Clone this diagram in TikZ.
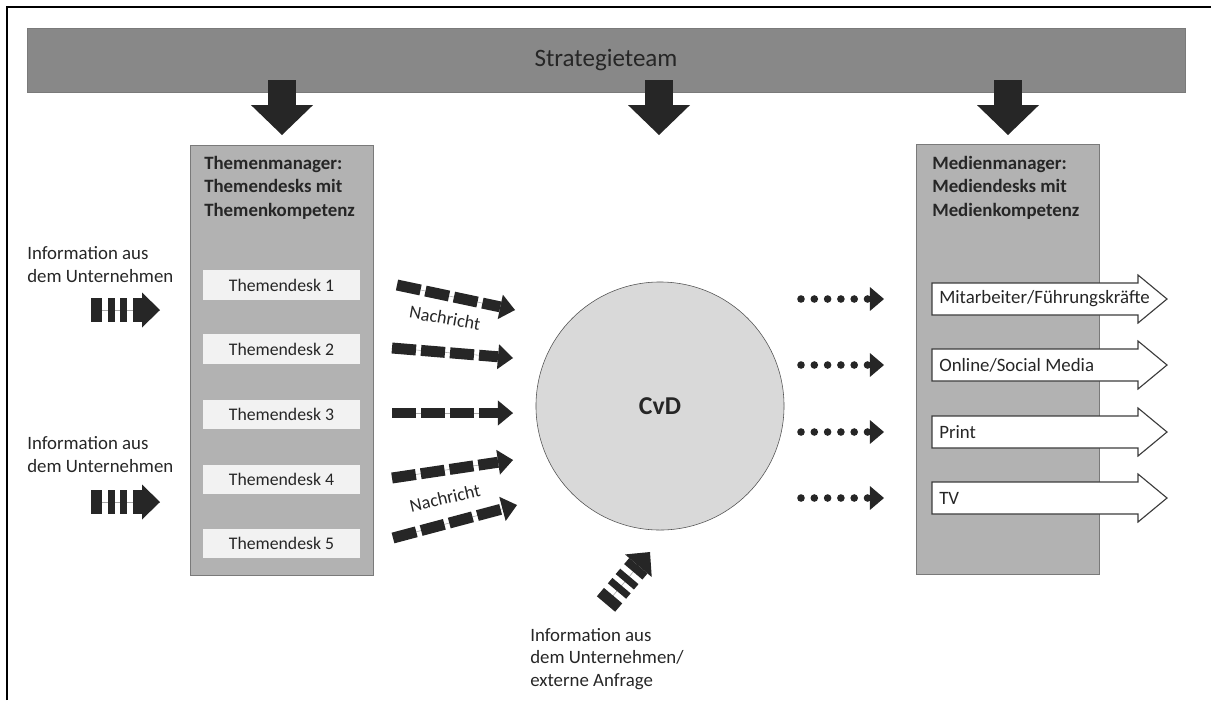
\documentclass[tikz,border=0pt]{standalone}
\usepackage{fontspec}
\setmainfont{Carlito}
\usetikzlibrary{arrows.meta}
\definecolor{ink}{HTML}{262626}
\definecolor{barfill}{HTML}{888888}
\definecolor{boxfill}{HTML}{B2B2B2}
\definecolor{boxline}{HTML}{7A7A7A}
\definecolor{deskfill}{HTML}{F2F2F2}
\definecolor{cvdfill}{HTML}{D9D9D9}

\begin{document}
\begin{tikzpicture}[x=0.025cm, y=-0.025cm, text=ink, font=\fontsize{13.4}{16}\selectfont]
%% coordinates are given in pixels of the original figure (y grows downwards)
%% 1px = 0.7113pt, all sizes below are converted to pt
%% multi-line labels are placed by the baseline of their last line
\tikzstyle{bar}=[draw=boxline, fill=barfill, minimum width=823.7pt, minimum height=45.5pt, inner sep=0pt, font=\fontsize{17.8}{20}\selectfont]
\tikzstyle{manager}=[draw=boxline, fill=boxfill, minimum width=130.2pt, minimum height=305.9pt, inner sep=0pt]
\tikzstyle{head}=[anchor=base west, align=left, inner sep=0pt, font=\fontsize{13.4}{16.4}\selectfont\bfseries]
\tikzstyle{desk}=[fill=deskfill, minimum width=111.7pt, minimum height=21.3pt, inner sep=0pt, font=\fontsize{12.6}{15}\selectfont]
\tikzstyle{info}=[anchor=base west, align=left, inner sep=0pt]
\tikzstyle{cvd}=[circle, draw=ink!80, fill=cvdfill, minimum size=176.4pt, inner sep=0pt, font=\fontsize{18.3}{20}\selectfont\bfseries]
\tikzstyle{medtext}=[anchor=west, inner sep=0pt]
\tikzstyle{medarrow}=[draw=ink!90, fill=white, line width=0.8pt, line join=miter]
\tikzstyle{bigarrow}=[draw=ink, line width=19.9pt, -{Triangle[length=21.3pt, width=44.1pt, line width'=0pt]}]
\tikzstyle{dasharrow}=[draw=ink, line width=7.8pt, dash pattern=on 17.1pt off 3.6pt, preaction={draw=ink!40, line width=0.4pt, solid, -}, -{Triangle[length=10.7pt, width=17.8pt, line width'=0pt]}]
\tikzstyle{stripearrow}=[draw=ink, line width=17pt, dash pattern=on 7.8pt off 4.3pt on 5pt off 3.6pt on 5pt off 4.3pt on 6.4pt off 20pt, preaction={draw=ink!40, line width=0.4pt, solid, -}, -{Triangle[length=12.8pt, width=24.9pt, line width'=0pt]}]
\tikzstyle{dotarrow}=[draw=ink, line width=5.4pt, line cap=round, dash pattern=on 0pt off 9.46pt, -{Triangle[length=10pt, width=17pt, line width'=0pt]}]
\tikzstyle{nachricht}=[inner sep=0pt, font=\fontsize{13}{15}\selectfont]

\useasboundingbox (0,0) rectangle (1211,700);
%% frame
\draw[black, line width=1.6pt] (7,700) -- (7,7) -- (1211,7);

%% strategy team
\node[bar] at (606,60) (strat) {Strategieteam};

%% managers
\node[manager] at (281.5,360) (themen) {};
\node[head] at (204,216) (themenhead) {Themenmanager:\\Themendesks mit\\Themenkompetenz};
\node[manager] at (1008,359.5) (medien) {};
\node[head] at (932,216) (medienhead) {Medienmanager:\\Mediendesks mit\\Medienkompetenz};

%% arrows from the strategy team
\coordinate (s1) at (282,80); \coordinate (t1) at (282,135);
\coordinate (s2) at (659,80); \coordinate (t2) at (659,135);
\coordinate (s3) at (1008,80); \coordinate (t3) at (1008,135);
\draw[bigarrow] (s1) -- (t1);
\draw[bigarrow] (s2) -- (t2);
\draw[bigarrow] (s3) -- (t3);

%% topic desks
\node[desk] at (281.5,285) (desk1) {Themendesk 1};
\node[desk] at (281.5,349) (desk2) {Themendesk 2};
\node[desk] at (281.5,414.5) (desk3) {Themendesk 3};
\node[desk] at (281.5,479.5) (desk4) {Themendesk 4};
\node[desk] at (281.5,543.5) (desk5) {Themendesk 5};

%% incoming information
\node[info] at (27,282) (info1) {Information aus\\dem Unternehmen};
\node[info] at (27,472) (info2) {Information aus\\dem Unternehmen};
\node[info] at (530,686) (info3) {Information aus\\dem Unternehmen/\\externe Anfrage};
\coordinate (i1a) at (91,310); \coordinate (i1b) at (160,310);
\coordinate (i2a) at (91,502); \coordinate (i2b) at (160,502);
\coordinate (i3a) at (606,604); \coordinate (i3b) at (650,552);
\draw[stripearrow] (i1a) -- (i1b);
\draw[stripearrow] (i2a) -- (i2b);
\draw[stripearrow] (i3a) -- (i3b);

%% CvD
\node[cvd] at (660,406) (cvd) {CvD};

%% messages to the CvD
\coordinate (n1a) at (397,285); \coordinate (n1b) at (515,310);
\coordinate (n2a) at (392,348); \coordinate (n2b) at (513,358);
\coordinate (n3a) at (392,413); \coordinate (n3b) at (513,413);
\coordinate (n4a) at (392,478); \coordinate (n4b) at (513,460);
\coordinate (n5a) at (393,538); \coordinate (n5b) at (517,505);
\draw[dasharrow] (n1a) -- (n1b);
\draw[dasharrow] (n2a) -- (n2b);
\draw[dasharrow] (n3a) -- (n3b);
\draw[dasharrow] (n4a) -- (n4b);
\draw[dasharrow] (n5a) -- (n5b);
\node[nachricht, rotate=-10] at (445,318) (msg1) {Nachricht};
\node[nachricht, rotate=13] at (445,498) (msg2) {Nachricht};

%% output to the media
\coordinate (m1a) at (801,299); \coordinate (m1b) at (884,299);
\coordinate (m2a) at (801,365); \coordinate (m2b) at (884,365);
\coordinate (m3a) at (801,432); \coordinate (m3b) at (884,432);
\coordinate (m4a) at (801,498); \coordinate (m4b) at (884,498);
\draw[dotarrow] (m1a) -- (m1b);
\draw[dotarrow] (m2a) -- (m2b);
\draw[dotarrow] (m3a) -- (m3b);
\draw[dotarrow] (m4a) -- (m4b);
\foreach \c in {299,365,432,498}
  \draw[medarrow] (932,\c-16) -- (1138,\c-16) -- (1138,\c-24) -- (1167,\c)
    -- (1138,\c+24) -- (1138,\c+16) -- (932,\c+16) -- cycle;
\node[medtext] at (939,299) (mit) {Mitarbeiter/Führungskräfte};
\node[medtext] at (939,365) (online) {Online/Social Media};
\node[medtext] at (939,432) (print) {Print};
\node[medtext] at (939,498) (tv) {TV};
\end{tikzpicture}
\end{document}
